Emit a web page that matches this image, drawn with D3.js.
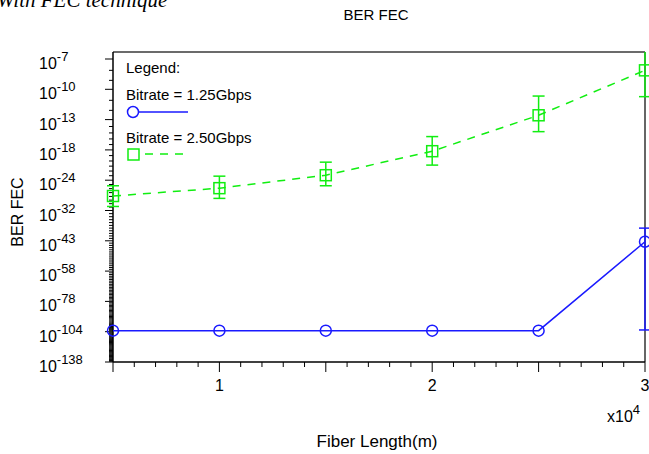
<!DOCTYPE html>
<html>
<head>
<meta charset="utf-8">
<script src="https://cdnjs.cloudflare.com/ajax/libs/d3/7.8.5/d3.min.js"></script>
<style>
  body { margin: 0; background: #fff; }
  svg { display: block; font-family: "Liberation Sans", Arial, sans-serif; }
</style>
</head>
<body>
<div id="chart"></div>
<script>
// fiber length (m)
const fiberLength = [5000, 10000, 15000, 20000, 25000, 30000];
// BER for 1.25 Gbps and its error bar limits
const ber125 = [1e-103, 1e-103, 1e-103, 1e-103, 1e-103, 4e-44];
const ber125Hi = [1e-103, 1e-103, 1e-103, 1e-103, 1e-103, 1e-38];
const ber125Lo = [1e-103, 1e-103, 1e-103, 1e-103, 1e-103, 5e-103];
// BER for 2.50 Gbps and its error bar limits
const ber250 = [1.3e-28, 1.3e-26, 1.3e-23, 6e-19, 3e-13, 1e-8];
const ber250Hi = [5e-26, 8e-24, 6e-21, 2.5e-16, 2.5e-11, 7e-7];
const ber250Lo = [1.6e-31, 3e-29, 5e-26, 1.6e-21, 1.6e-15, 2.2e-11];
// y tick labels (BER exponents, axis is log of -log10 BER)
const yTickExps = [7, 10, 13, 18, 24, 32, 43, 58, 78, 104, 138];
const xTicks = [10000, 20000, 30000];
const xTickLabels = ["1", "2", "3"];

const W = 649, H = 454;
const pLeft = 113, pRight = 645, pTop = 52, pBottom = 362;
const step = (pBottom - 59) / (yTickExps.length - 1);

const svg = d3.select("#chart").append("svg")
  .attr("width", W).attr("height", H);

const x = d3.scaleLinear().domain([5000, 30000]).range([pLeft, pRight]);
// polylinear log scale, labelled ticks evenly spaced
const yExp = d3.scaleLog()
  .domain(yTickExps)
  .range(yTickExps.map((d, i) => 59 + i * step));
const y = ber => yExp(-Math.log10(ber));

// cut-off heading at the top
svg.append("text")
  .attr("x", -3).attr("y", 7)
  .attr("font-family", "Liberation Serif, serif")
  .attr("font-style", "italic")
  .attr("font-size", 21)
  .text("With FEC technique");

// title
svg.append("text")
  .attr("x", 376).attr("y", 20)
  .attr("text-anchor", "middle")
  .attr("font-size", 15)
  .text("BER FEC");

// frame
svg.append("line").attr("x1", pLeft).attr("x2", pRight).attr("y1", pTop).attr("y2", pTop)
  .attr("stroke", "#6b6b6b").attr("stroke-width", 2);
svg.append("line").attr("x1", pRight).attr("x2", pRight).attr("y1", pTop).attr("y2", pBottom)
  .attr("stroke", "#333").attr("stroke-width", 1.5);

// y minor ticks (every integer exponent)
const minorExps = d3.range(7, 139).filter(d => !yTickExps.includes(d));
svg.append("g").selectAll("line").data(minorExps).join("line")
  .attr("x1", pLeft - 4).attr("x2", pLeft)
  .attr("y1", d => yExp(d)).attr("y2", d => yExp(d))
  .attr("stroke", "#000").attr("stroke-width", 1);
svg.append("g").selectAll("line").data(yTickExps).join("line")
  .attr("x1", pLeft - 8).attr("x2", pLeft)
  .attr("y1", d => yExp(d)).attr("y2", d => yExp(d))
  .attr("stroke", "#000").attr("stroke-width", 1);

// y tick labels
const yl = svg.append("g").selectAll("text").data(yTickExps).join("text")
  .attr("x", 39).attr("y", d => yExp(d) + 10)
  .attr("font-size", 16);
yl.append("tspan").text("10");
yl.append("tspan").attr("dy", -8).attr("font-size", 13).text(d => "-" + d);

// y axis line
svg.append("line").attr("x1", pLeft).attr("x2", pLeft).attr("y1", pTop).attr("y2", pBottom)
  .attr("stroke", "#000").attr("stroke-width", 1.5);

// x ticks
svg.append("g").selectAll("line").data(d3.range(5000, 30001, 1000)).join("line")
  .attr("x1", d => x(d)).attr("x2", d => x(d))
  .attr("y1", pBottom).attr("y2", d => pBottom + (d % 5000 === 0 ? 10 : 5))
  .attr("stroke", "#000").attr("stroke-width", 1);
svg.append("g").selectAll("text").data(xTicks).join("text")
  .attr("x", d => x(d)).attr("y", 391)
  .attr("text-anchor", "middle").attr("font-size", 16)
  .text((d, i) => xTickLabels[i]);
svg.append("line").attr("x1", pLeft).attr("x2", pRight).attr("y1", pBottom).attr("y2", pBottom)
  .attr("stroke", "#000").attr("stroke-width", 1.5);

const mult = svg.append("text").attr("x", 607).attr("y", 422).attr("font-size", 16);
mult.append("tspan").text("x10");
mult.append("tspan").attr("dy", -8).attr("font-size", 13).text("4");

svg.append("text")
  .attr("x", 377).attr("y", 447)
  .attr("text-anchor", "middle").attr("font-size", 17)
  .text("Fiber Length(m)");

svg.append("text")
  .attr("transform", "translate(23,212) rotate(-90)")
  .attr("text-anchor", "middle").attr("font-size", 16)
  .text("BER FEC");

// plot content, clipped at frame top
svg.append("clipPath").attr("id", "clip")
  .append("rect").attr("x", 0).attr("y", pTop).attr("width", W).attr("height", H - pTop);
const plot = svg.append("g").attr("clip-path", "url(#clip)");

const blue = "#1a1aff", green = "#11ee11";
const line = d3.line().x(d => x(d[0])).y(d => y(d[1]));

// 1.25 Gbps
plot.append("path")
  .attr("d", line(fiberLength.map((d, i) => [d, ber125[i]])))
  .attr("fill", "none").attr("stroke", blue).attr("stroke-width", 1.5);

// 2.50 Gbps
plot.append("path")
  .attr("d", line(fiberLength.map((d, i) => [d, ber250[i]])))
  .attr("fill", "none").attr("stroke", green).attr("stroke-width", 1.5)
  .attr("stroke-dasharray", "8,7");

const errorBars = (hi, lo, color) => {
  const g = plot.append("g").attr("stroke", color).attr("stroke-width", 1.5).attr("fill", "none");
  fiberLength.forEach((d, i) => {
    if (hi[i] === lo[i]) return;
    const cx = x(d);
    g.append("line").attr("x1", cx).attr("x2", cx).attr("y1", y(hi[i])).attr("y2", y(lo[i]));
    g.append("line").attr("x1", cx - 6).attr("x2", cx + 6).attr("y1", y(hi[i])).attr("y2", y(hi[i]));
    g.append("line").attr("x1", cx - 6).attr("x2", cx + 6).attr("y1", y(lo[i])).attr("y2", y(lo[i]));
  });
};
errorBars(ber250Hi, ber250Lo, green);
errorBars(ber125Hi, ber125Lo, blue);

plot.append("g").selectAll("circle").data(fiberLength).join("circle")
  .attr("cx", d => x(d)).attr("cy", (d, i) => y(ber125[i])).attr("r", 5.5)
  .attr("fill", "none").attr("stroke", blue).attr("stroke-width", 1.5);

plot.append("g").selectAll("rect").data(fiberLength).join("rect")
  .attr("x", d => x(d) - 5.5).attr("y", (d, i) => y(ber250[i]) - 5.5)
  .attr("width", 11).attr("height", 11)
  .attr("fill", "none").attr("stroke", green).attr("stroke-width", 1.5);

// legend
const lg = svg.append("g").attr("font-size", 15);
lg.append("text").attr("x", 126).attr("y", 73).text("Legend:");
lg.append("text").attr("x", 126).attr("y", 100).text("Bitrate = 1.25Gbps");
lg.append("line").attr("x1", 133).attr("x2", 188).attr("y1", 112).attr("y2", 112)
  .attr("stroke", blue).attr("stroke-width", 1.5);
lg.append("circle").attr("cx", 133).attr("cy", 112).attr("r", 5.5)
  .attr("fill", "#fff").attr("stroke", blue).attr("stroke-width", 1.5);
lg.append("text").attr("x", 126).attr("y", 143).text("Bitrate = 2.50Gbps");
lg.append("line").attr("x1", 139).attr("x2", 190).attr("y1", 154).attr("y2", 154)
  .attr("stroke", green).attr("stroke-width", 1.5).attr("stroke-dasharray", "8,7")
  .attr("stroke-dashoffset", -6);
lg.append("rect").attr("x", 128).attr("y", 149).attr("width", 11).attr("height", 11)
  .attr("fill", "none").attr("stroke", green).attr("stroke-width", 1.5);
</script>
</body>
</html>
